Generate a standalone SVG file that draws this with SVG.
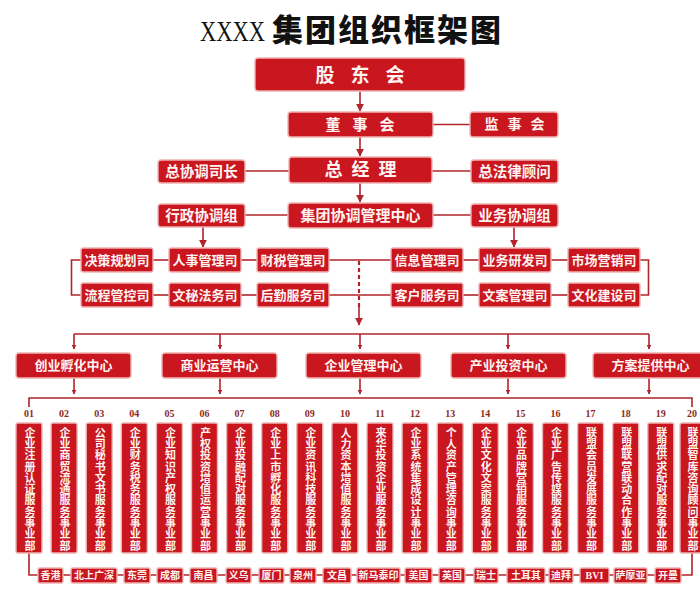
<svg xmlns="http://www.w3.org/2000/svg" width="700" height="593" viewBox="0 0 700 593">
<defs>
<marker id="ah" viewBox="0 0 10 10" refX="9" refY="5" markerWidth="5" markerHeight="5" orient="auto" markerUnits="userSpaceOnUse">
<path d="M0,0 L10,5 L0,10 z" fill="#b0242a"/>
</marker>
<marker id="ahb" viewBox="0 0 10 10" refX="9" refY="5" markerWidth="8" markerHeight="9" orient="auto" markerUnits="userSpaceOnUse">
<path d="M0,0 L10,5 L0,10 z" fill="#b0242a"/>
</marker>
<style>
.b{fill:#c9161f;stroke:#efb4b4;stroke-width:1.4}
.t{fill:#fff4f2;font-family:"Liberation Serif","Noto Sans CJK SC",serif;font-weight:bold;text-anchor:middle;dominant-baseline:central}
.vt{fill:#fff4f2;font-family:"Liberation Serif","Noto Sans CJK SC",serif;font-weight:bold;font-size:11px;writing-mode:vertical-rl;letter-spacing:0.3px}
.n{fill:#8e2a22;font-family:"Liberation Serif","Noto Sans CJK SC",serif;font-weight:bold;font-size:10px;text-anchor:middle}
.l{stroke:#b0242a;stroke-width:1.6;fill:none}
.d{stroke:#b0242a;stroke-width:2.2;fill:none;stroke-dasharray:4 3}
</style>
</defs>
<rect width="700" height="593" fill="#ffffff"/>
<text transform="scale(0.75 1)" x="266.7" y="41" font-family="Liberation Serif,serif" font-size="30" fill="#111">XXXX</text>
<text x="272" y="41" font-family="Noto Sans CJK SC,sans-serif" font-weight="900" font-size="31" fill="#111" letter-spacing="2">集团组织框架图</text>

<g id="connectors">
<line class="l" x1="360" y1="92" x2="360" y2="111" marker-end="url(#ahb)"/>
<line class="l" x1="433" y1="124.5" x2="470" y2="124.5"/>
<line class="l" x1="360" y1="137" x2="360" y2="156" marker-end="url(#ahb)"/>
<line class="l" x1="245" y1="171" x2="289" y2="171"/>
<line class="l" x1="432" y1="171" x2="471" y2="171"/>
<line class="l" x1="360" y1="183" x2="360" y2="202" marker-end="url(#ahb)"/>
<line class="l" x1="245" y1="215" x2="288" y2="215"/>
<line class="l" x1="433" y1="215" x2="471" y2="215"/>
<line class="l" x1="203" y1="227" x2="203" y2="247" marker-end="url(#ahb)"/>
<line class="l" x1="514" y1="227" x2="514" y2="247" marker-end="url(#ahb)"/>
<polyline class="l" points="81,260 71.5,260 71.5,295 81,295"/>
<polyline class="l" points="640,260 648.5,260 648.5,295 640,295"/>
<line class="l" x1="153" y1="260" x2="169" y2="260"/>
<line class="l" x1="241" y1="260" x2="257" y2="260"/>
<line class="l" x1="329" y1="260" x2="391" y2="260"/>
<line class="l" x1="463" y1="260" x2="479" y2="260"/>
<line class="l" x1="551" y1="260" x2="568" y2="260"/>
<line class="l" x1="153" y1="295" x2="169" y2="295"/>
<line class="l" x1="241" y1="295" x2="257" y2="295"/>
<line class="l" x1="329" y1="295" x2="391" y2="295"/>
<line class="l" x1="463" y1="295" x2="479" y2="295"/>
<line class="l" x1="551" y1="295" x2="568" y2="295"/>
<line class="d" x1="359" y1="261" x2="359" y2="307"/>
<line class="l" x1="359" y1="306" x2="359" y2="325" marker-end="url(#ahb)"/>
<line class="l" x1="74" y1="334" x2="649" y2="334"/>
<line class="l" x1="74" y1="334" x2="74" y2="349" marker-end="url(#ah)"/>
<line class="l" x1="220" y1="334" x2="220" y2="349" marker-end="url(#ah)"/>
<line class="l" x1="360" y1="334" x2="360" y2="349" marker-end="url(#ah)"/>
<line class="l" x1="508" y1="334" x2="508" y2="349" marker-end="url(#ah)"/>
<line class="l" x1="649" y1="334" x2="649" y2="349" marker-end="url(#ah)"/>
<line class="l" x1="74" y1="378" x2="74" y2="394" marker-end="url(#ah)"/>
<line class="l" x1="220" y1="378" x2="220" y2="394" marker-end="url(#ah)"/>
<line class="l" x1="360" y1="378" x2="360" y2="394" marker-end="url(#ah)"/>
<line class="l" x1="508" y1="378" x2="508" y2="394" marker-end="url(#ah)"/>
<line class="l" x1="649" y1="378" x2="649" y2="394" marker-end="url(#ah)"/>
<polyline class="l" points="29,407 29,398 692,398 692,407"/>
<polyline class="l" points="29,553 29,575 692,575 692,553"/>
</g>

<g id="n-gudong"><rect class="b" x="255" y="58" width="210" height="33" rx="3"/><text class="t" x="368" y="75" font-size="19" letter-spacing="16">股东会</text></g>
<g id="n-dongshi"><rect class="b" x="288" y="112" width="145" height="25" rx="3"/><text class="t" x="366" y="124.5" font-size="15" letter-spacing="12">董事会</text></g>
<g id="n-jianshi"><rect class="b" x="470" y="112" width="88" height="25" rx="3"/><text class="t" x="519" y="124.5" font-size="14" letter-spacing="9">监事会</text></g>
<g id="n-zongjingli"><rect class="b" x="289" y="157" width="143" height="26" rx="3"/><text class="t" x="365" y="170" font-size="18" letter-spacing="9">总经理</text></g>
<g id="n-zongxietiao"><rect class="b" x="158" y="160" width="87" height="23" rx="3"/><text class="t" x="201.5" y="171.5" font-size="14.5">总协调司长</text></g>
<g id="n-falv"><rect class="b" x="471" y="160" width="87" height="23" rx="3"/><text class="t" x="514.5" y="171.5" font-size="14.5">总法律顾问</text></g>
<g id="n-jituan"><rect class="b" x="288" y="203" width="145" height="25" rx="3"/><text class="t" x="360.5" y="215.5" font-size="15">集团协调管理中心</text></g>
<g id="n-xingzheng"><rect class="b" x="158" y="204" width="87" height="23" rx="3"/><text class="t" x="201.5" y="215.5" font-size="14.5">行政协调组</text></g>
<g id="n-yewu"><rect class="b" x="471" y="204" width="87" height="23" rx="3"/><text class="t" x="514.5" y="215.5" font-size="14.5">业务协调组</text></g>

<g id="n-juece"><rect class="b" x="81" y="248" width="72" height="24" rx="2"/><text class="t" x="117" y="260" font-size="13">决策规划司</text></g>
<g id="n-renshi"><rect class="b" x="169" y="248" width="72" height="24" rx="2"/><text class="t" x="205" y="260" font-size="13">人事管理司</text></g>
<g id="n-caishui"><rect class="b" x="257" y="248" width="72" height="24" rx="2"/><text class="t" x="293" y="260" font-size="13">财税管理司</text></g>
<g id="n-xinxi"><rect class="b" x="391" y="248" width="72" height="24" rx="2"/><text class="t" x="427" y="260" font-size="13">信息管理司</text></g>
<g id="n-yanfa"><rect class="b" x="479" y="248" width="72" height="24" rx="2"/><text class="t" x="515" y="260" font-size="13">业务研发司</text></g>
<g id="n-shichang"><rect class="b" x="568" y="248" width="72" height="24" rx="2"/><text class="t" x="604" y="260" font-size="13">市场营销司</text></g>
<g id="n-liucheng"><rect class="b" x="81" y="283" width="72" height="24" rx="2"/><text class="t" x="117" y="295" font-size="13">流程管控司</text></g>
<g id="n-wenmi"><rect class="b" x="169" y="283" width="72" height="24" rx="2"/><text class="t" x="205" y="295" font-size="13">文秘法务司</text></g>
<g id="n-houqin"><rect class="b" x="257" y="283" width="72" height="24" rx="2"/><text class="t" x="293" y="295" font-size="13">后勤服务司</text></g>
<g id="n-kehu"><rect class="b" x="391" y="283" width="72" height="24" rx="2"/><text class="t" x="427" y="295" font-size="13">客户服务司</text></g>
<g id="n-wenan"><rect class="b" x="479" y="283" width="72" height="24" rx="2"/><text class="t" x="515" y="295" font-size="13">文案管理司</text></g>
<g id="n-wenhua"><rect class="b" x="568" y="283" width="72" height="24" rx="2"/><text class="t" x="604" y="295" font-size="13">文化建设司</text></g>

<g id="n-chuangye"><rect class="b" x="16" y="353" width="115" height="25" rx="3"/><text class="t" x="73.5" y="365.5" font-size="13">创业孵化中心</text></g>
<g id="n-shangye"><rect class="b" x="162" y="353" width="115" height="25" rx="3"/><text class="t" x="219.5" y="365.5" font-size="13">商业运营中心</text></g>
<g id="n-qiye"><rect class="b" x="306" y="353" width="115" height="25" rx="3"/><text class="t" x="363.5" y="365.5" font-size="13">企业管理中心</text></g>
<g id="n-chanye"><rect class="b" x="451" y="353" width="115" height="25" rx="3"/><text class="t" x="508.5" y="365.5" font-size="13">产业投资中心</text></g>
<g id="n-fangan"><rect class="b" x="593" y="353" width="115" height="25" rx="3"/><text class="t" x="650.5" y="365.5" font-size="13">方案提供中心</text></g>

<g id="c01"><text class="n" x="29" y="417">01</text><rect class="b" x="16" y="423" width="26" height="130" rx="2"/><text class="vt" x="29" y="427">企业注册认证服务事业部</text></g>
<g id="c02"><text class="n" x="64.1" y="417">02</text><rect class="b" x="51.1" y="423" width="26" height="130" rx="2"/><text class="vt" x="64.1" y="427">企业商贸流通服务事业部</text></g>
<g id="c03"><text class="n" x="99.2" y="417">03</text><rect class="b" x="86.2" y="423" width="26" height="130" rx="2"/><text class="vt" x="99.2" y="427">公司秘书文书服务事业部</text></g>
<g id="c04"><text class="n" x="134.3" y="417">04</text><rect class="b" x="121.3" y="423" width="26" height="130" rx="2"/><text class="vt" x="134.3" y="427">企业财务税务服务事业部</text></g>
<g id="c05"><text class="n" x="169.4" y="417">05</text><rect class="b" x="156.4" y="423" width="26" height="130" rx="2"/><text class="vt" x="169.4" y="427">企业知识产权服务事业部</text></g>
<g id="c06"><text class="n" x="204.5" y="417">06</text><rect class="b" x="191.5" y="423" width="26" height="130" rx="2"/><text class="vt" x="204.5" y="427">产权投资增值运营事业部</text></g>
<g id="c07"><text class="n" x="239.6" y="417">07</text><rect class="b" x="226.6" y="423" width="26" height="130" rx="2"/><text class="vt" x="239.6" y="427">企业投融配对服务事业部</text></g>
<g id="c08"><text class="n" x="274.7" y="417">08</text><rect class="b" x="261.7" y="423" width="26" height="130" rx="2"/><text class="vt" x="274.7" y="427">企业上市孵化服务事业部</text></g>
<g id="c09"><text class="n" x="309.8" y="417">09</text><rect class="b" x="296.8" y="423" width="26" height="130" rx="2"/><text class="vt" x="309.8" y="427">企业资讯科技服务事业部</text></g>
<g id="c10"><text class="n" x="344.9" y="417">10</text><rect class="b" x="331.9" y="423" width="26" height="130" rx="2"/><text class="vt" x="344.9" y="427">人力资本增值服务事业部</text></g>
<g id="c11"><text class="n" x="380" y="417">11</text><rect class="b" x="367" y="423" width="26" height="130" rx="2"/><text class="vt" x="380" y="427">来华投资企业服务事业部</text></g>
<g id="c12"><text class="n" x="415.1" y="417">12</text><rect class="b" x="402.1" y="423" width="26" height="130" rx="2"/><text class="vt" x="415.1" y="427">企业系统集成设计事业部</text></g>
<g id="c13"><text class="n" x="450.2" y="417">13</text><rect class="b" x="437.2" y="423" width="26" height="130" rx="2"/><text class="vt" x="450.2" y="427">个人资产管理咨询事业部</text></g>
<g id="c14"><text class="n" x="485.3" y="417">14</text><rect class="b" x="472.3" y="423" width="26" height="130" rx="2"/><text class="vt" x="485.3" y="427">企业文化文案服务事业部</text></g>
<g id="c15"><text class="n" x="520.4" y="417">15</text><rect class="b" x="507.4" y="423" width="26" height="130" rx="2"/><text class="vt" x="520.4" y="427">企业品牌营销服务事业部</text></g>
<g id="c16"><text class="n" x="555.5" y="417">16</text><rect class="b" x="542.5" y="423" width="26" height="130" rx="2"/><text class="vt" x="555.5" y="427">企业广告传媒服务事业部</text></g>
<g id="c17"><text class="n" x="590.6" y="417">17</text><rect class="b" x="577.6" y="423" width="26" height="130" rx="2"/><text class="vt" x="590.6" y="427">联盟会员发展服务事业部</text></g>
<g id="c18"><text class="n" x="625.7" y="417">18</text><rect class="b" x="612.7" y="423" width="26" height="130" rx="2"/><text class="vt" x="625.7" y="427">联盟联营联动合作事业部</text></g>
<g id="c19"><text class="n" x="660.8" y="417">19</text><rect class="b" x="647.8" y="423" width="26" height="130" rx="2"/><text class="vt" x="660.8" y="427">联盟供求配对服务事业部</text></g>
<g id="c20"><text class="n" x="692" y="417">20</text><rect class="b" x="680" y="423" width="24" height="130" rx="2"/><text class="vt" x="692" y="427">联盟智库咨询顾问事业部</text></g>

<g id="places">
<g id="p1"><rect class="b" x="38" y="568" width="25" height="15" rx="1.5"/><text class="t" x="50.5" y="575.5" font-size="10">香港</text></g>
<g id="p2"><rect class="b" x="71" y="568" width="46" height="15" rx="1.5"/><text class="t" x="94" y="575.5" font-size="10">北上广深</text></g>
<g id="p3"><rect class="b" x="124" y="568" width="26" height="15" rx="1.5"/><text class="t" x="137" y="575.5" font-size="10">东莞</text></g>
<g id="p4"><rect class="b" x="157" y="568" width="26" height="15" rx="1.5"/><text class="t" x="170" y="575.5" font-size="10">成都</text></g>
<g id="p5"><rect class="b" x="190" y="568" width="27" height="15" rx="1.5"/><text class="t" x="203.5" y="575.5" font-size="10">南昌</text></g>
<g id="p6"><rect class="b" x="226" y="568" width="25" height="15" rx="1.5"/><text class="t" x="238.5" y="575.5" font-size="10">义乌</text></g>
<g id="p7"><rect class="b" x="259" y="568" width="25" height="15" rx="1.5"/><text class="t" x="271.5" y="575.5" font-size="10">厦门</text></g>
<g id="p8"><rect class="b" x="290" y="568" width="26" height="15" rx="1.5"/><text class="t" x="303" y="575.5" font-size="10">泉州</text></g>
<g id="p9"><rect class="b" x="323" y="568" width="28" height="15" rx="1.5"/><text class="t" x="337" y="575.5" font-size="10">文昌</text></g>
<g id="p10"><rect class="b" x="357" y="568" width="43" height="15" rx="1.5"/><text class="t" x="378.5" y="575.5" font-size="10">新马泰印</text></g>
<g id="p11"><rect class="b" x="405" y="568" width="27" height="15" rx="1.5"/><text class="t" x="418.5" y="575.5" font-size="10">美国</text></g>
<g id="p12"><rect class="b" x="439" y="568" width="26" height="15" rx="1.5"/><text class="t" x="452" y="575.5" font-size="10">英国</text></g>
<g id="p13"><rect class="b" x="474" y="568" width="24" height="15" rx="1.5"/><text class="t" x="486" y="575.5" font-size="10">瑞士</text></g>
<g id="p14"><rect class="b" x="507" y="568" width="38" height="15" rx="1.5"/><text class="t" x="526" y="575.5" font-size="10">土耳其</text></g>
<g id="p15"><rect class="b" x="549" y="568" width="24" height="15" rx="1.5"/><text class="t" x="561" y="575.5" font-size="10">迪拜</text></g>
<g id="p16"><rect class="b" x="580" y="568" width="29" height="15" rx="1.5"/><text class="t" x="594.5" y="575.5" font-size="10">BVI</text></g>
<g id="p17"><rect class="b" x="614" y="568" width="33" height="15" rx="1.5"/><text class="t" x="630.5" y="575.5" font-size="10">萨摩亚</text></g>
<g id="p18"><rect class="b" x="655" y="568" width="26" height="15" rx="1.5"/><text class="t" x="668" y="575.5" font-size="10">开曼</text></g>
</g>
</svg>
